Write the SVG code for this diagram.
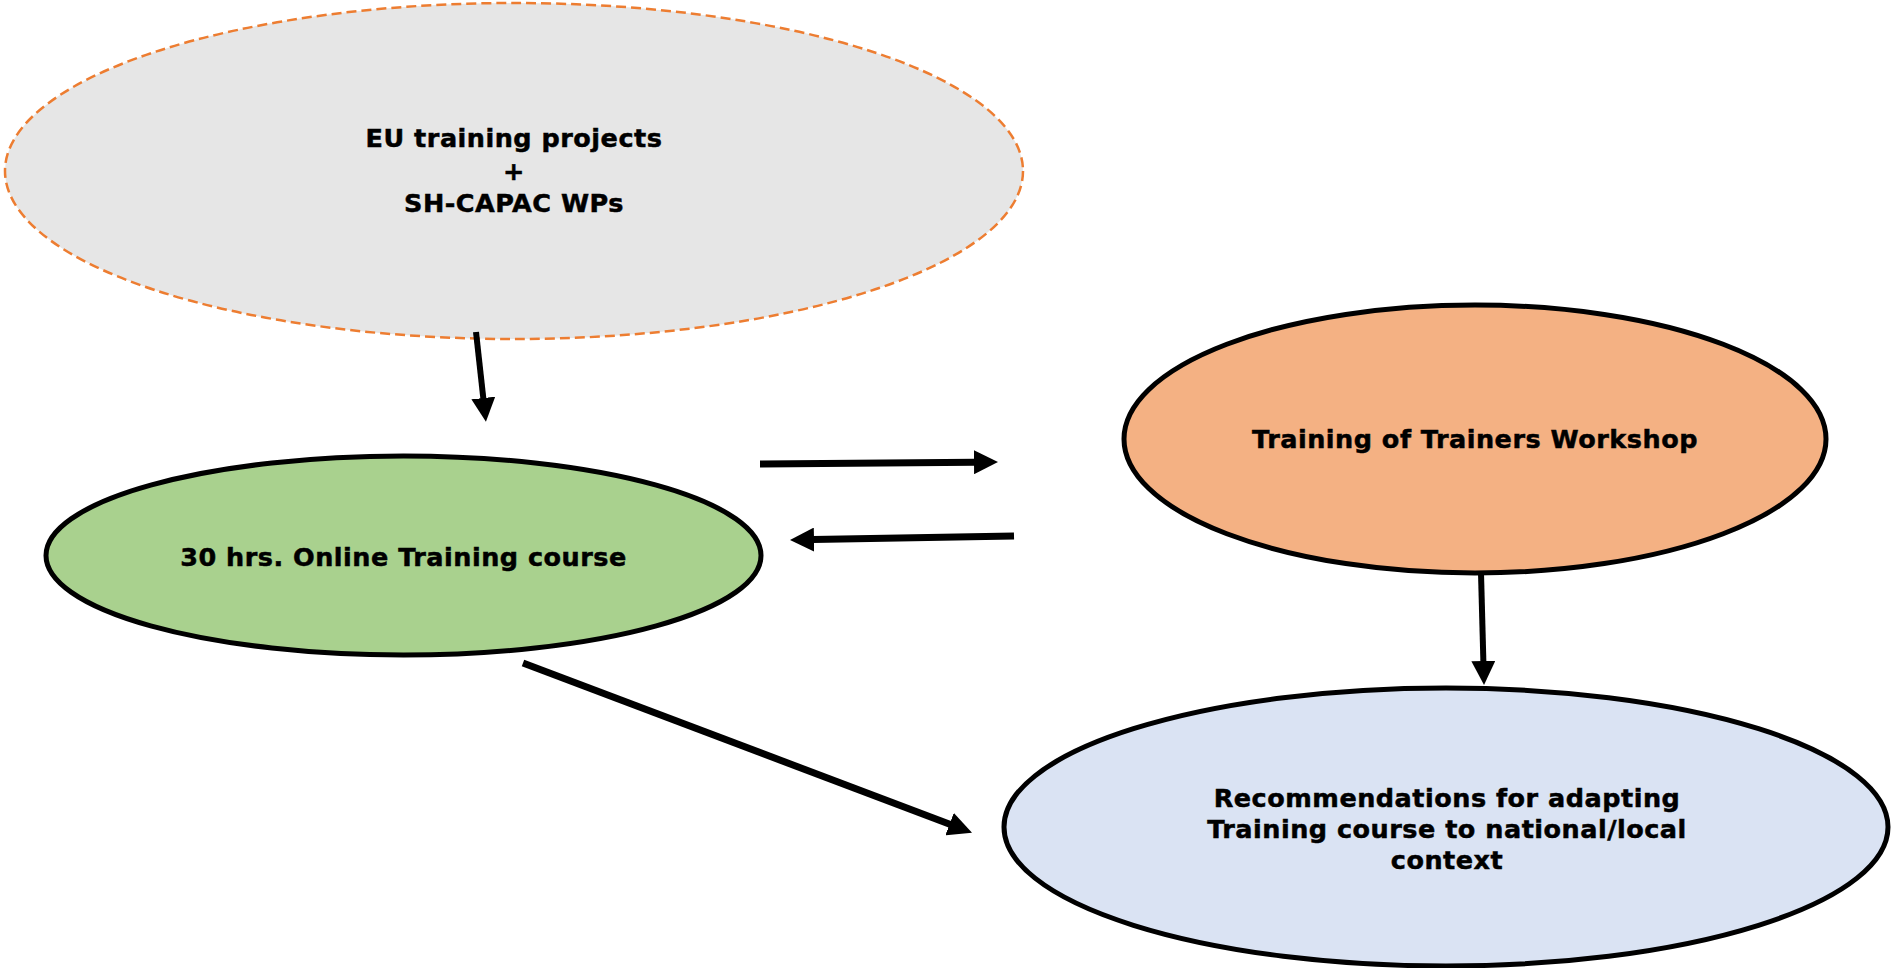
<svg xmlns="http://www.w3.org/2000/svg" width="1893" height="968" viewBox="0 0 1893 968">
  <style>
    .label { font-family: "DejaVu Sans", Verdana, "Liberation Sans", sans-serif; font-weight: bold; font-size: 25.5px; letter-spacing: 0.5px; fill: #000; stroke: #000; stroke-width: 0.5; text-anchor: middle; }
    .solid { stroke: #000; stroke-width: 5; }
    .link { fill: none; stroke: #000; stroke-width: 7; }
  </style>
  <defs>
    <marker id="head" viewBox="0 -12 24 24" markerUnits="userSpaceOnUse" markerWidth="24" markerHeight="24" refX="1" refY="0" orient="auto">
      <path d="M0,-12 L24,0 L0,12 z" fill="#000"/>
    </marker>
  </defs>
  <rect width="1893" height="968" fill="#fff"/>

  <g id="node-sources">
    <ellipse cx="514" cy="171" rx="509" ry="168" fill="#E6E6E6" stroke="#ED7D31" stroke-width="2.5" stroke-dasharray="10 5"/>
    <text class="label" x="514" y="147">EU training projects</text>
    <text class="label" x="514" y="179.5">+</text>
    <text class="label" x="514" y="212">SH-CAPAC WPs</text>
  </g>

  <g id="node-online-course">
    <ellipse class="solid" cx="403.5" cy="555.5" rx="357.5" ry="99.5" fill="#A9D18E"/>
    <text class="label" x="403.5" y="566">30 hrs. Online Training course</text>
  </g>

  <g id="node-tot-workshop">
    <ellipse class="solid" cx="1475" cy="439" rx="351" ry="134" fill="#F4B183"/>
    <text class="label" x="1475" y="448">Training of Trainers Workshop</text>
  </g>

  <g id="node-recommendations">
    <ellipse class="solid" cx="1446" cy="827" rx="442" ry="139" fill="#DAE3F3"/>
    <text class="label" x="1447" y="807">Recommendations for adapting</text>
    <text class="label" x="1447" y="838">Training course to national/local</text>
    <text class="label" x="1447" y="869">context</text>
  </g>

  <g id="connectors">
    <line class="link" style="stroke-width:6" x1="476" y1="332" x2="483.4" y2="399" marker-end="url(#head)"/>
    <line class="link" x1="760" y1="464" x2="975" y2="462.2" marker-end="url(#head)"/>
    <line class="link" x1="1014" y1="536" x2="813" y2="539.6" marker-end="url(#head)"/>
    <line class="link" style="stroke-width:6" x1="1481" y1="573" x2="1483.4" y2="662" marker-end="url(#head)"/>
    <line class="link" x1="523" y1="663" x2="950.5" y2="824.5" marker-end="url(#head)"/>
  </g>
</svg>
